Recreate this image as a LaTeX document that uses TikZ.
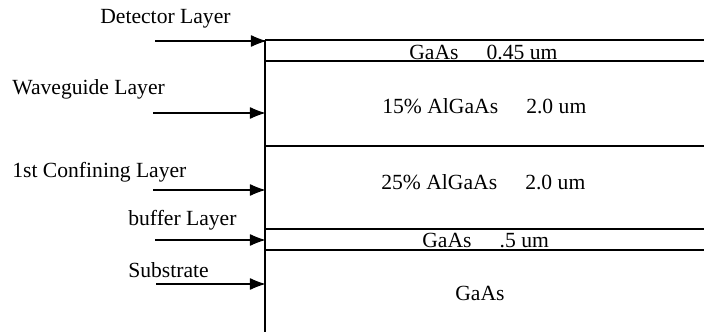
\documentclass[tikz,border=0pt]{standalone}
\usepackage{fontspec}
\setmainfont{Liberation Serif}
\usepackage{tikz}
\usetikzlibrary{arrows.meta, positioning}

\begin{document}
\begin{tikzpicture}[
    x=0.02cm, y=-0.02cm,
    lbl/.style={anchor=west, inner sep=0pt, font=\fontsize{12.3}{14}\selectfont},
    layer/.style={anchor=west, inner sep=0pt, font=\fontsize{12.3}{14}\selectfont},
    arr/.style={-{Latex[length=9pt, width=7pt, round]}, line width=0.6pt},
    edge/.style={line width=0.8pt}
]
\useasboundingbox (0,0) rectangle (704,332);

% stack of layers
\coordinate (top) at (265,40);
\coordinate (bot) at (265,332);
\draw[edge] (top) -- (bot);
\foreach \y in {40,61,146,229,250} \draw[edge] (265,\y) -- (704,\y);

\node[layer] (det) at (409,52) {GaAs\hspace{1.3em}0.45 um};
\node[layer] (wg)  at (382,106) {15\% AlGaAs\hspace{1.3em}2.0 um};
\node[layer] (cf)  at (381,182) {25\% AlGaAs\hspace{1.3em}2.0 um};
\node[layer] (buf) at (422,240) {GaAs\hspace{1.3em}.5 um};
\node[layer] (sub) at (455,293) {GaAs};

% labels and arrows
\node[lbl] (ldet) at (100,19)  {Detector Layer};
\node[lbl] (lwg)  at (12,89)   {Waveguide Layer};
\node[lbl] (lcf)  at (12,172)  {1st Confining Layer};
\node[lbl] (lbuf) at (128,220) {buffer Layer};
\node[lbl] (lsub) at (128,270) {Substrate};

\coordinate (t1) at (155,41);  \coordinate (h1) at (265,41);
\coordinate (t2) at (153,113); \coordinate (h2) at (264,113);
\coordinate (t3) at (153,190); \coordinate (h3) at (264,190);
\coordinate (t4) at (155,240); \coordinate (h4) at (264,240);
\coordinate (t5) at (156,284); \coordinate (h5) at (264,284);
\foreach \i in {1,...,5} \draw[arr] (t\i) -- (h\i);
\end{tikzpicture}
\end{document}
